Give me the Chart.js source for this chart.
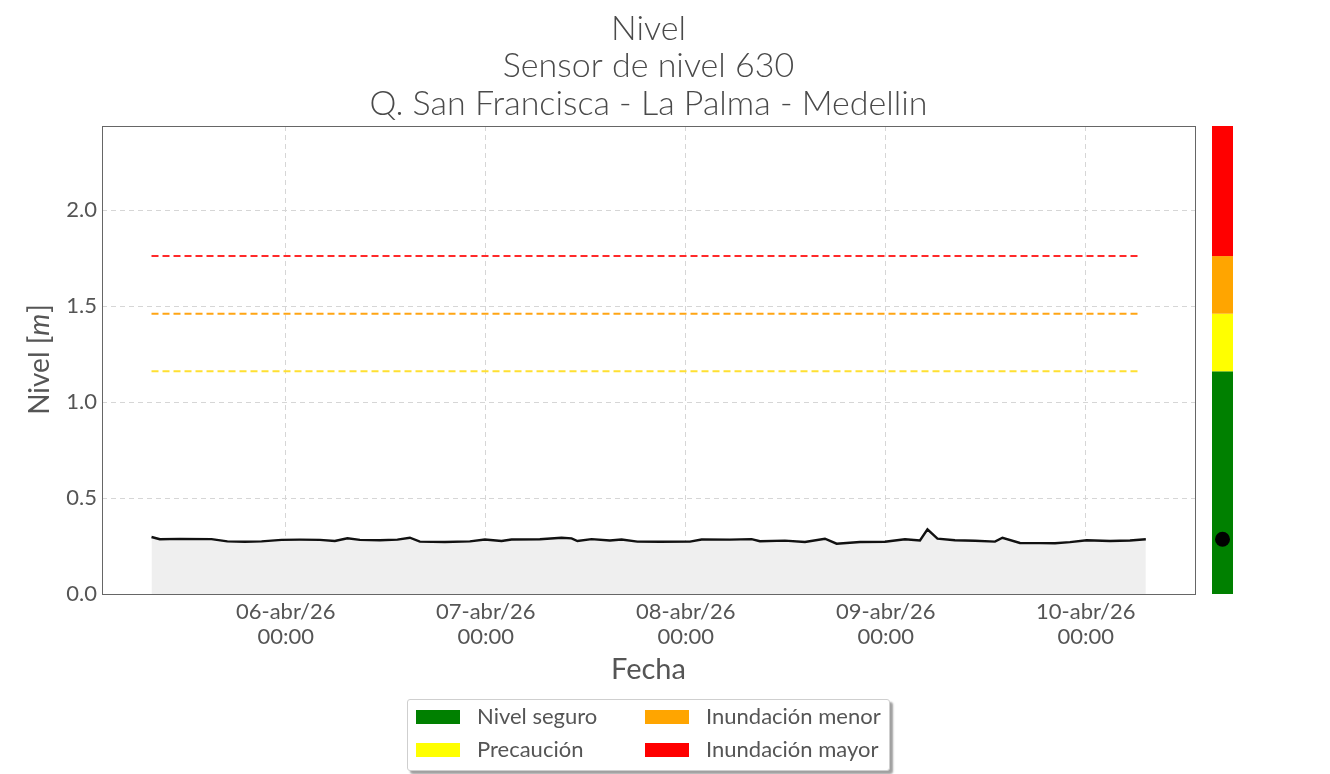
<!DOCTYPE html>
<html>
<head>
<meta charset="utf-8">
<script src="https://cdn.jsdelivr.net/npm/chart.js@4.4.1/dist/chart.umd.min.js"></script>
<style>
    html, body { margin: 0; padding: 0; background: #fff; }
    #wrap { position: relative; width: 1330px; height: 774px; }
    #legend {
        position: absolute; left: 407px; top: 699px; width: 481px; height: 70px;
        border: 1px solid #cfcfcf; border-radius: 3px; background: #fff;
        box-shadow: 3px 3px 2px #a0a0a0;
        font-family: Lato, "Open Sans", sans-serif; font-size: 22px; color: #555;
    }
    .item { position: absolute; height: 26px; line-height: 26px; white-space: nowrap; }
    .sw { display: inline-block; width: 44px; height: 14px; vertical-align: middle; margin-right: 17px; position: relative; top: -1px; }
</style>
</head>
<body>
<div id="wrap">
    <canvas id="nivelChart" width="1330" height="774"></canvas>
    <div id="legend"></div>
</div>
<script>
// horas contadas desde 05-abr/26 00:00
const horas = [7.9, 8.9, 11.3, 15.1, 17.0, 19.1, 21.1, 23.5, 25.7, 28.1, 29.9, 31.4, 32.9, 35.3, 37.4, 38.9,
    40.1, 43.1, 46.1, 47.9, 49.9, 51.1, 54.5, 57.1, 58.3, 59.0, 60.7, 62.9, 64.3, 66.2, 68.9, 72.5,
    73.9, 77.3, 79.9, 80.9, 83.9, 86.3, 88.7, 90.1, 92.9, 95.9, 98.3, 100.1, 101.0, 102.2, 104.3,
    106.7, 109.1, 110.0, 112.1, 114.5, 116.3, 118.1, 120.1, 122.9, 125.3, 127.2];
const nivel = [0.297, 0.285, 0.287, 0.286, 0.274, 0.272, 0.274, 0.282, 0.283, 0.282, 0.276, 0.290, 0.282, 0.280, 0.283, 0.293,
    0.273, 0.271, 0.274, 0.284, 0.276, 0.284, 0.285, 0.293, 0.290, 0.276, 0.286, 0.279, 0.284, 0.273, 0.272, 0.273,
    0.284, 0.283, 0.286, 0.275, 0.278, 0.271, 0.288, 0.262, 0.271, 0.272, 0.285, 0.279, 0.337, 0.288, 0.280,
    0.277, 0.273, 0.293, 0.266, 0.265, 0.264, 0.270, 0.280, 0.276, 0.279, 0.285];

const umbrales = [1.16, 1.46, 1.76];
const umbralColores = ['#ffe032', '#ffa514', '#ff2a2a'];
const categorias = ['Nivel seguro', 'Precaución', 'Inundación menor', 'Inundación mayor'];
const categoriaColores = ['#008000', '#ffff00', '#ffa500', '#ff0000'];

const xTicks = [24, 48, 72, 96, 120];
const xTickLabels = [['06-abr/26', '00:00'], ['07-abr/26', '00:00'], ['08-abr/26', '00:00'], ['09-abr/26', '00:00'], ['10-abr/26', '00:00']];
const yTicks = [0, 0.5, 1.0, 1.5, 2.0];
const X_MIN = 1.96, X_MAX = 133.1, Y_MAX = 2.4375;

const titulo = ['Nivel', 'Sensor de nivel 630', 'Q. San Francisca - La Palma - Medellin'];
const FONT = 'Lato, "Open Sans", sans-serif';
const GRIS = '#555';

const serie = horas.map(function (h, i) { return { x: h, y: nivel[i] }; });

const umbralSets = umbrales.map(function (u, i) {
    return {
        data: [{ x: horas[0], y: u }, { x: horas[horas.length - 1] - 0.6, y: u }],
        borderColor: umbralColores[i],
        borderWidth: 2,
        borderDash: [7, 4],
        pointRadius: 0,
        fill: false,
    };
});

const decor = {
    id: 'decor',
    afterDraw: function (chart) {
        const ctx = chart.ctx;
        const a = chart.chartArea;
        const ys = chart.scales.y;
        ctx.save();

        // caja del grafico
        ctx.strokeStyle = '#666';
        ctx.lineWidth = 1;
        ctx.strokeRect(a.left + 0.5, a.top + 0.5, a.right - a.left, a.bottom - a.top);

        // titulo
        ctx.fillStyle = '#4a4a4a';
        ctx.font = '300 34px ' + FONT;
        ctx.textAlign = 'center';
        ctx.textBaseline = 'middle';
        const cx = (a.left + a.right) / 2;
        titulo.forEach(function (t, i) { ctx.fillText(t, cx, 29 + i * 37.5); });

        // etiqueta eje x
        ctx.fillStyle = GRIS;
        ctx.font = '29px ' + FONT;
        ctx.fillText('Fecha', cx, 670);

        // etiqueta eje y con m en cursiva
        ctx.translate(40, (a.top + a.bottom) / 2);
        ctx.rotate(-Math.PI / 2);
        const p1 = 'Nivel [', p2 = 'm', p3 = ']';
        ctx.font = '28px ' + FONT;
        const w1 = ctx.measureText(p1).width, w3 = ctx.measureText(p3).width;
        ctx.font = 'italic 28px ' + FONT;
        const w2 = ctx.measureText(p2).width;
        let x0 = -(w1 + w2 + w3) / 2;
        ctx.textAlign = 'left';
        ctx.font = '28px ' + FONT;
        ctx.fillText(p1, x0, 0);
        ctx.font = 'italic 28px ' + FONT;
        ctx.fillText(p2, x0 + w1, 0);
        ctx.font = '28px ' + FONT;
        ctx.fillText(p3, x0 + w1 + w2 + 1, 0);
        ctx.setTransform(1, 0, 0, 1, 0, 0);

        // barra de colores
        const bordes = [0].concat(umbrales, [Y_MAX]);
        for (let i = 0; i < categoriaColores.length; i++) {
            const yTop = ys.getPixelForValue(bordes[i + 1]);
            const yBot = ys.getPixelForValue(bordes[i]);
            ctx.fillStyle = categoriaColores[i];
            ctx.fillRect(1212, yTop, 21, yBot - yTop);
        }
        ctx.fillStyle = '#000';
        ctx.beginPath();
        ctx.arc(1222.5, ys.getPixelForValue(nivel[nivel.length - 1]), 7.5, 0, Math.PI * 2);
        ctx.fill();
        ctx.restore();
    }
};

new Chart(document.getElementById('nivelChart').getContext('2d'), {
    type: 'line',
    data: {
        datasets: [{
            data: serie,
            borderColor: '#111',
            borderWidth: 2.4,
            backgroundColor: '#efefef',
            fill: 'origin',
            pointRadius: 0,
            tension: 0,
        }].concat(umbralSets),
    },
    options: {
        responsive: false,
        animation: false,
        events: [],
        layout: { padding: { top: 126, right: 135, bottom: 0, left: 0 } },
        plugins: { legend: { display: false }, tooltip: { enabled: false }, title: { display: false } },
        scales: {
            x: {
                type: 'linear',
                min: X_MIN,
                max: X_MAX,
                afterBuildTicks: function (s) { s.ticks = xTicks.map(function (v) { return { value: v }; }); },
                afterFit: function (s) { s.height = 180; },
                grid: { color: '#d6d6d6', drawTicks: false },
                border: { display: false, dash: [5, 4] },
                ticks: {
                    padding: 5,
                    color: GRIS,
                    maxRotation: 0,
                    font: { family: FONT, size: 22, lineHeight: 1.15 },
                    callback: function (v) { return xTickLabels[xTicks.indexOf(v)]; },
                },
            },
            y: {
                type: 'linear',
                min: 0,
                max: Y_MAX,
                afterBuildTicks: function (s) { s.ticks = yTicks.map(function (v) { return { value: v }; }); },
                afterFit: function (s) { s.width = 102; },
                grid: { color: '#d6d6d6', drawTicks: false },
                border: { display: false, dash: [5, 4] },
                ticks: {
                    padding: 5,
                    color: GRIS,
                    font: { family: FONT, size: 22 },
                    callback: function (v) { return v.toFixed(1); },
                },
            },
        },
    },
    plugins: [decor],
});

// leyenda en dos columnas
const legend = document.getElementById('legend');
const pos = [[8, 3], [8, 36], [237, 3], [237, 36]];
categorias.forEach(function (c, i) {
    const el = document.createElement('div');
    el.className = 'item';
    el.style.left = pos[i][0] + 'px';
    el.style.top = pos[i][1] + 'px';
    el.innerHTML = '<span class="sw" style="background:' + categoriaColores[i] + '"></span>' + c;
    legend.appendChild(el);
});
</script>
</body>
</html>
